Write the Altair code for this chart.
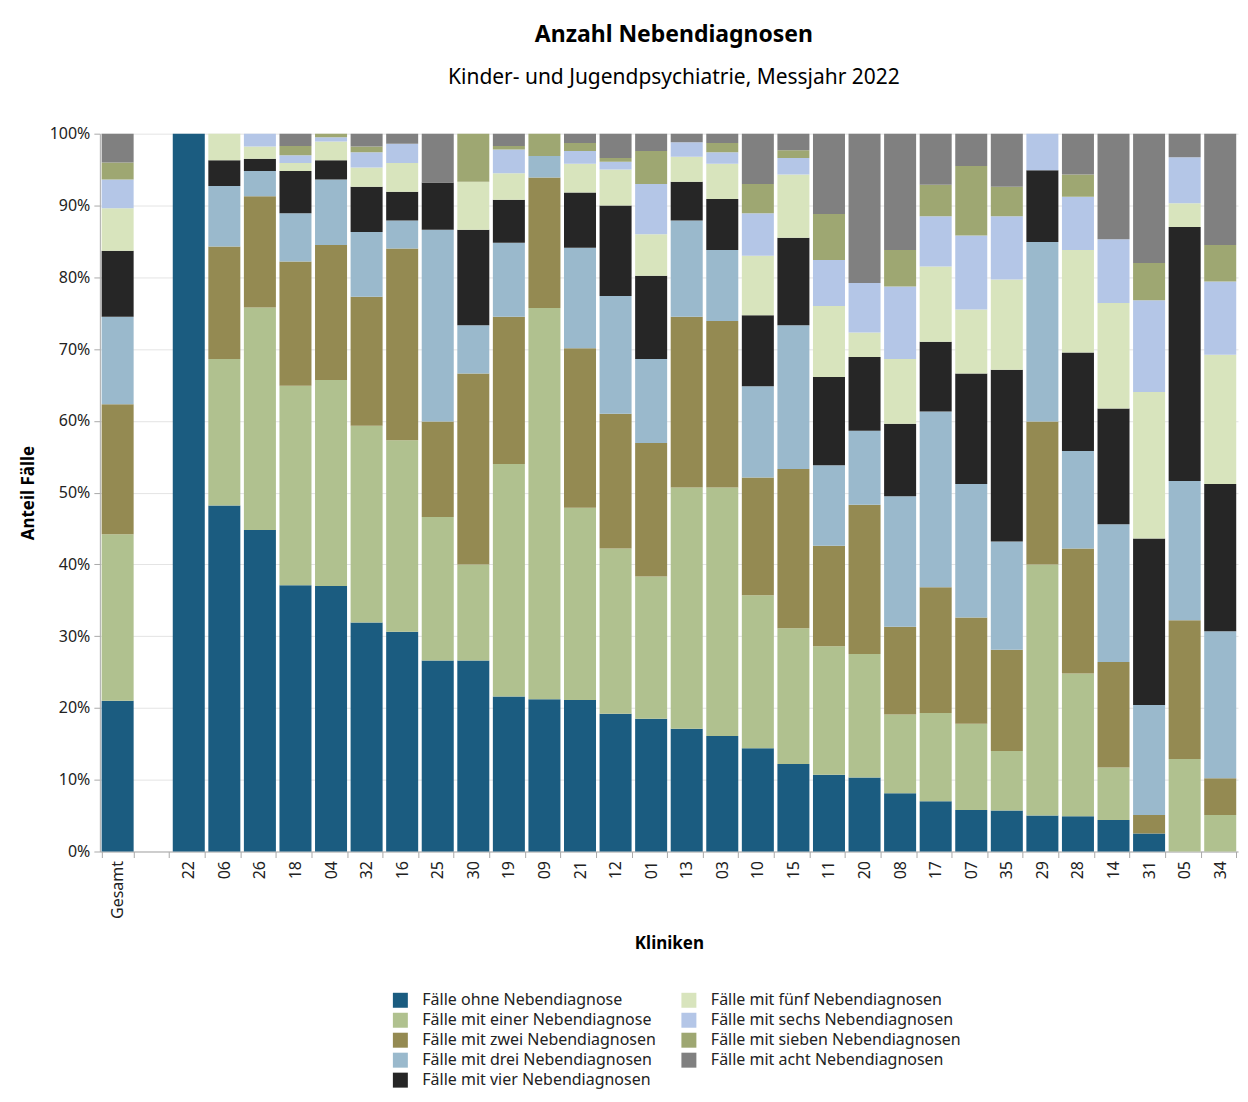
import altair as alt
import pandas as pd

# Clinics in display order (Gesamt first, then a blank slot)
clinics = ["Gesamt", "22", "06", "26", "18", "04", "32", "16", "25", "30", "19", "09",
           "21", "12", "01", "13", "03", "10", "15", "11", "20", "08", "17", "07",
           "35", "29", "28", "14", "31", "05", "34"]
x_domain = ["Gesamt", " "] + clinics[1:]

categories = [
    "Fälle ohne Nebendiagnose",
    "Fälle mit einer Nebendiagnose",
    "Fälle mit zwei Nebendiagnosen",
    "Fälle mit drei Nebendiagnosen",
    "Fälle mit vier Nebendiagnosen",
    "Fälle mit fünf Nebendiagnosen",
    "Fälle mit sechs Nebendiagnosen",
    "Fälle mit sieben Nebendiagnosen",
    "Fälle mit acht Nebendiagnosen",
]
colors = ["#1b5c80", "#b0c18f", "#948a52", "#9ab9cc", "#262626",
          "#d8e4bd", "#b4c6e7", "#9ea772", "#808080"]

# Shares in percent, one list per category, in clinic order
ohne   = [21.0, 100, 48.2, 44.8, 37.1, 37.0, 31.9, 30.6, 26.6, 26.6, 21.6, 21.2, 21.1, 19.2, 18.5, 17.1,
          16.1, 14.4, 12.2, 10.7, 10.3, 8.1, 7.0, 5.8, 5.7, 5.0, 4.9, 4.4, 2.5, 0, 0]
einer  = [23.2, 0, 20.4, 31.0, 27.8, 28.7, 27.4, 26.7, 20.0, 13.4, 32.4, 54.5, 26.8, 23.0, 19.8, 33.6,
          34.6, 21.3, 18.9, 17.9, 17.2, 11.0, 12.3, 12.0, 8.3, 35.0, 19.9, 7.3, 0, 12.9, 5.1]
zwei   = [18.1, 0, 15.7, 15.5, 17.3, 18.8, 18.0, 26.7, 13.3, 26.6, 20.5, 18.2, 22.2, 18.8, 18.6, 23.8,
          23.2, 16.4, 22.2, 14.0, 20.8, 12.2, 17.5, 14.8, 14.1, 19.9, 17.4, 14.7, 2.6, 19.3, 5.1]
drei   = [12.2, 0, 8.4, 3.5, 6.7, 9.1, 9.0, 3.9, 26.7, 6.7, 10.3, 3.0, 14.0, 16.4, 11.7, 13.4,
          9.9, 12.7, 20.0, 11.2, 10.3, 18.2, 24.5, 18.6, 15.1, 25.0, 13.6, 19.2, 15.3, 19.4, 20.5]
vier   = [9.2, 0, 3.6, 1.7, 5.9, 2.7, 6.3, 4.0, 6.6, 13.3, 6.0, 0, 7.7, 12.6, 11.6, 5.4,
          7.1, 9.9, 12.2, 12.3, 10.3, 10.1, 9.7, 15.4, 23.9, 10.0, 13.7, 16.1, 23.2, 35.4, 20.5]
fuenf  = [5.9, 0, 3.7, 1.7, 1.1, 2.6, 2.7, 4.0, 0, 6.7, 3.7, 0, 4.0, 5.0, 5.8, 3.5,
          4.9, 8.3, 8.8, 9.9, 3.4, 9.0, 10.5, 8.9, 12.6, 0, 14.3, 14.7, 20.4, 3.3, 18.0]
sechs  = [4.0, 0, 0, 1.8, 1.1, 0.6, 2.1, 2.7, 0, 0, 3.3, 0, 1.8, 1.1, 7.0, 2.0,
          1.6, 5.9, 2.3, 6.4, 6.9, 10.1, 7.0, 10.3, 8.8, 5.1, 7.4, 8.9, 12.8, 6.4, 10.2]
sieben = [2.4, 0, 0, 0, 1.3, 0.5, 0.8, 0, 0, 6.7, 0.5, 3.1, 1.1, 0.5, 4.6, 0,
          1.3, 4.1, 1.1, 6.4, 0, 5.1, 4.4, 9.7, 4.1, 0, 3.1, 0, 5.2, 0, 5.1]
acht   = [4.0, 0, 0, 0, 1.7, 0, 1.8, 1.4, 6.8, 0, 1.7, 0, 1.3, 3.4, 2.4, 1.2,
          1.3, 7.0, 2.3, 11.2, 20.8, 16.2, 7.1, 4.5, 7.4, 0, 5.7, 14.7, 18.0, 3.3, 15.5]

series = [ohne, einer, zwei, drei, vier, fuenf, sechs, sieben, acht]

rows = []
for k, (cat, vals) in enumerate(zip(categories, series)):
    for clinic, v in zip(clinics, vals):
        if v > 0:
            rows.append({"Klinik": clinic, "Kategorie": cat, "k": k, "Anteil": v})
df = pd.DataFrame(rows)

FONT = "Noto Sans"

chart = alt.Chart(df).mark_bar().encode(
    x=alt.X("Klinik:N",
            sort=x_domain,
            scale=alt.Scale(domain=x_domain, paddingInner=0.1, paddingOuter=0.05),
            axis=alt.Axis(title="Kliniken", labelAngle=270, labelFontSize=16,
                          labelFont=FONT, labelColor="#222222", labelPadding=3,
                          titleFont=FONT, titleFontSize=17, titleFontWeight="bold",
                          titleColor="black", titlePadding=17,
                          domainColor="#aaaaaa", tickColor="#aaaaaa", tickSize=6,
                          tickBand="extent", grid=False)),
    y=alt.Y("Anteil:Q", stack="zero",
            scale=alt.Scale(domain=[0, 100], nice=False),
            axis=alt.Axis(title="Anteil Fälle", values=list(range(0, 101, 10)),
                          labelExpr="datum.value + '%'", labelFontSize=16,
                          labelFont=FONT, labelColor="#222222", labelPadding=4,
                          titleFont=FONT, titleFontSize=17, titleFontWeight="bold",
                          titleColor="black", titlePadding=12,
                          domainColor="#aaaaaa", tickColor="#aaaaaa", tickSize=6,
                          gridColor="#e4e4e4")),
    color=alt.Color("Kategorie:N",
                    scale=alt.Scale(domain=categories, range=colors),
                    legend=alt.Legend(title=None, orient="none", legendX=293, legendY=860,
                                      columns=2, symbolType="square", symbolSize=225,
                                      symbolStrokeWidth=0, labelFontSize=16, labelFont=FONT,
                                      labelColor="#222222", labelLimit=400,
                                      rowPadding=4, columnPadding=24, labelOffset=14)),
    order=alt.Order("k:Q", sort="ascending"),
).properties(
    width=1140,
    height=719,
    padding={"left": 11, "top": 15, "right": 2, "bottom": 5},
    title=alt.TitleParams(
        text="Anzahl Nebendiagnosen",
        subtitle="Kinder- und Jugendpsychiatrie, Messjahr 2022",
        font=FONT, fontSize=23, fontWeight="bold", color="black",
        subtitleFont=FONT, subtitleFontSize=21, subtitleColor="black",
        anchor="middle", subtitlePadding=20, offset=38, dx=5,
    ),
).configure_view(stroke="transparent")

chart.save("out.html", embed_options={"renderer": "svg", "actions": False})
